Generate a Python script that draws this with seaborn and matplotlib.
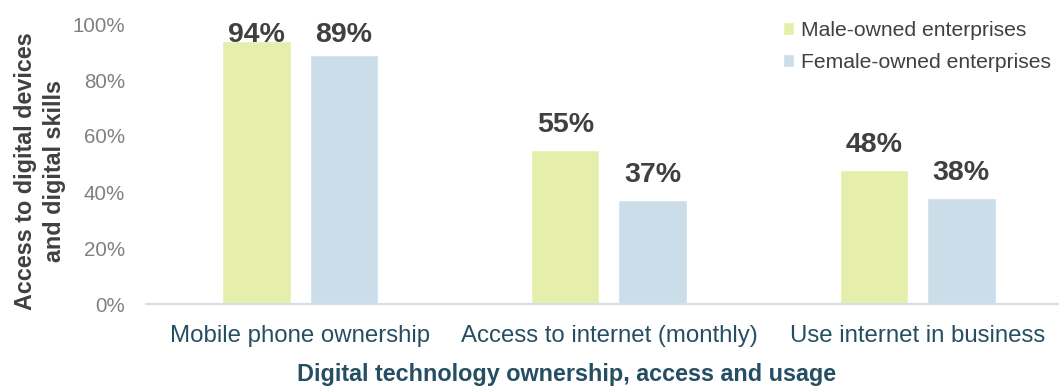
import matplotlib
matplotlib.use("Agg")
import matplotlib.pyplot as plt
import seaborn as sns
import pandas as pd

# Share of enterprises (%) by owner gender
categories = ["Mobile phone ownership", "Access to internet (monthly)", "Use internet in business"]
groups = ["Male-owned enterprises", "Female-owned enterprises"]
male_values = [94, 55, 48]
female_values = [89, 37, 38]
y_ticks = [0, 20, 40, 60, 80, 100]

x_title = "Digital technology ownership, access and usage"
y_title = "Access to digital devices\nand digital skills"

colors = {groups[0]: "#E5EFAB", groups[1]: "#CADDE9"}

df = pd.DataFrame({
    "category": categories * 2,
    "group": [groups[0]] * len(categories) + [groups[1]] * len(categories),
    "value": male_values + female_values,
})

sns.set_theme(style="white")
plt.rcParams["font.family"] = ["Liberation Sans", "DejaVu Sans"]

fig = plt.figure(figsize=(10.59, 3.90), dpi=100)
ax = fig.add_axes([146 / 1059, 86 / 390, 1 - 146 / 1059, 280 / 390])

sns.barplot(data=df, x="category", y="value", hue="group", order=categories,
            hue_order=groups, palette=colors, width=0.567, gap=0.217,
            saturation=1, ax=ax, legend=True)

ax.set_xlim(-0.5, 2.458)
ax.set_ylim(0, 100)
ax.set_yticks(y_ticks)
ax.set_yticklabels([f"{t}%" for t in y_ticks])

for side in ["top", "right", "left"]:
    ax.spines[side].set_visible(False)
ax.spines["bottom"].set_color("#CFE0EA")
ax.spines["bottom"].set_linewidth(1.5)

ax.tick_params(axis="y", length=0, pad=15, labelsize=14.8, labelcolor="#808080")
ax.tick_params(axis="x", length=0, pad=15, labelsize=17.3, labelcolor="#264E63")

ax.set_xlabel(x_title, fontsize=16.8, fontweight="bold", color="#264E63")
ax.xaxis.set_label_coords(0.461, -0.212)
ax.set_ylabel(y_title, fontsize=16.8, fontweight="bold", color="#404040", linespacing=1.3)
ax.yaxis.set_label_coords(-0.088, 0.475)

# value labels above each bar, kept below the top of the frame
for container in ax.containers:
    for bar in container:
        h = bar.get_height()
        ax.text(bar.get_x() + bar.get_width() / 2, min(h + 6.4, 93.6), f"{h:.0f}%",
                ha="center", va="baseline", fontsize=20.5, fontweight="bold",
                color="#404040")

ax.legend(loc="upper left", bbox_to_anchor=(783 / 1059, 1 - 21 / 390),
          bbox_transform=fig.transFigure, frameon=False, fontsize=15.2,
          handlelength=0.52, handleheight=0.52, handletextpad=0.33,
          labelspacing=0.62, borderpad=0, borderaxespad=0, labelcolor="#404040")

fig.savefig("out.png", dpi=100)
